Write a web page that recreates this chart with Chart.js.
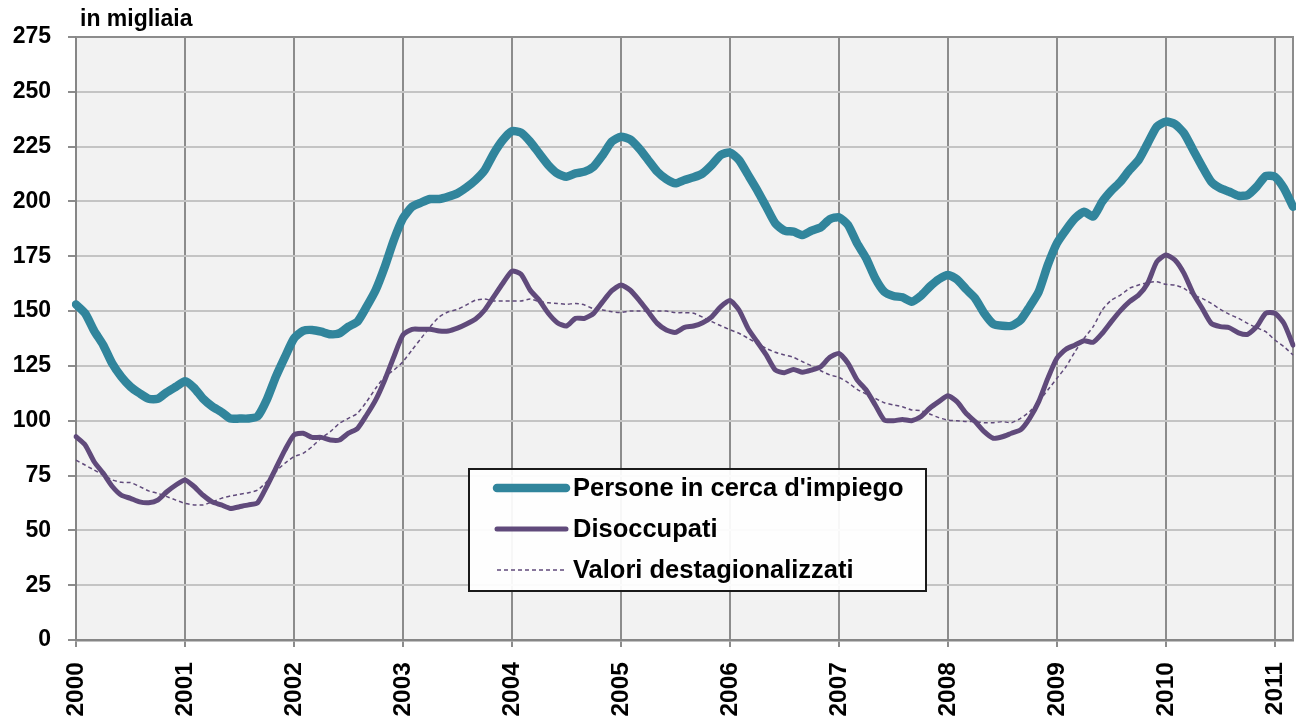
<!DOCTYPE html>
<html>
<head>
<meta charset="utf-8"/>
<title>Persone in cerca d'impiego e disoccupati</title>
<script src="https://cdn.jsdelivr.net/npm/chart.js"></script>
<style>
html, body { margin: 0; padding: 0; background: #fff; }
#wrap { width: 1296px; height: 722px; }
</style>
</head>
<body>
<div id="wrap"><canvas id="myChart"></canvas></div>
<script>
// monthly data, Jan 2000 .. Mar 2011 (thousands)
const years = [2000, 2001, 2002, 2003, 2004, 2005, 2006, 2007, 2008, 2009, 2010, 2011];

const cercaImpiego = [
  153, 149, 141, 134.5, 126, 120, 115.5, 112.5, 110, 110, 113, 115.5,
  118, 115, 110, 106.5, 104, 101, 101, 101, 102, 109.5, 120, 129,
  137.5, 141, 141.4, 140.6, 139.4, 139.9, 142.9, 145.2, 152, 159.6, 170.2, 182.4,
  192.3, 197.6, 199.5, 201.1, 201.1, 202.2, 203.7, 206.4, 209.8, 214.3, 221.9, 228,
  232, 231.4, 227.3, 221.9, 216.6, 212.8, 211.3, 212.8, 213.6, 215.9, 221.2, 227.3,
  229.5, 228.3, 224.2, 218.9, 213.6, 210.2, 208.3, 209.8, 211, 212.8, 216.6, 221.2,
  222.3, 218.9, 212.1, 205.2, 197.6, 190, 186.7, 186.2, 184.7, 186.7, 188.2, 191.9,
  192.8, 189.3, 180.9, 174.1, 165, 158.8, 156.9, 156.3, 154.3, 156.9, 161.1, 164.5,
  166.5, 164.5, 160, 155.8, 149, 144.1, 143.3, 143.3, 145.9, 152, 158.8, 171,
  180.9, 187, 192.3, 195.3, 193.1, 199.9, 204.9, 209, 214.3, 218.9, 226.5, 234.1,
  236.4, 235.3, 231.1, 223.5, 215.9, 209, 206, 204.4, 202.6, 202.9, 206.7, 211.6,
  211.3, 206, 197.6
];

const disoccupati = [
  92.7, 89, 81.3, 76, 70, 66, 64.6, 63, 62.6, 63.8, 67.6, 70.7,
  73, 70, 66, 63, 61.6, 60, 60.8, 61.6, 62.6, 70, 78.3, 86.6,
  93.5, 94.3, 92.4, 92.4, 91.2, 91.2, 94.3, 96.5, 102.6, 109.5, 118.6, 129.2,
  139.1, 141.7, 141.7, 141.7, 140.9, 140.9, 142.2, 144.1, 146.4, 150.5, 156.6, 162.7,
  168.2, 166.8, 159.6, 155, 149, 144.7, 143.2, 146.7, 146.7, 149, 154.3, 159.3,
  161.9, 159.6, 155, 149.7, 144.4, 141.4, 140.3, 142.6, 143.2, 144.7, 147.4, 152,
  154.8, 150.5, 142, 136, 130, 123.1, 121.9, 123.4, 122.1, 123.1, 124.6, 128.9,
  130.7, 126.2, 118.6, 114, 107.2, 100.3, 100, 100.6, 100, 101.8, 105.7, 108.7,
  111.4, 108.7, 103.4, 99.6, 95, 92, 92.7, 94.3, 95.8, 101.1, 108.7, 119.3,
  128.5, 132.6, 134.5, 136.5, 135.8, 139.9, 145.2, 150.2, 154.3, 157.3, 162.7, 172.5,
  175.6, 173.3, 167.2, 158.1, 151.3, 144.4, 142.9, 142.4, 140.1, 139.4, 142.9, 149,
  149, 144.4, 134.5
];

const destagionalizzati = [
  82, 79.8, 77.5, 75.2, 73, 71.9, 71.8, 70, 68, 66.9, 65.4, 63.8,
  62.3, 61.6, 61.6, 63, 64.6, 65.7, 66.4, 67.2, 68.4, 72.2, 76.8, 80.6,
  83.6, 85.1, 88.2, 92, 95, 98.8, 101.1, 103.4, 108.7, 114.8, 120.1, 123.1,
  126.9, 132.3, 137.6, 142.9, 147.4, 149.7, 150.8, 152.8, 155, 155.5, 154.6, 154.6,
  154.6, 154.6, 155.5, 154.3, 153.8, 153.5, 153.1, 153.5, 152.8, 151, 150.5, 149.7,
  149.4, 150, 150, 150, 150, 150, 149.3, 149.3, 149, 147.2, 145.2, 143.3,
  141.5, 139.9, 137.6, 135.3, 133, 131.2, 130, 128.9, 126.9, 125, 122.8, 120.9,
  119.8, 117.4, 114.3, 112.2, 110.2, 108.2, 107.2, 106.4, 104.9, 104.6, 103.1, 101.4,
  100.3, 100, 99.6, 99.6, 99.1, 99.1, 99.6, 99.1, 101.1, 104.1, 108.7, 114,
  119.3, 124.6, 131.5, 137.6, 142.9, 150.5, 155, 157.3, 160.4, 161.9, 163, 163.4,
  162.2, 161.9, 160.4, 157.3, 155.8, 153.5, 150.8, 148.5, 146.7, 144.4, 142.4, 140.6,
  136.8, 133.8, 130
];

const seriesNames = ["Persone in cerca d'impiego", "Disoccupati", "Valori destagionalizzati"];
const yMin = 0, yMax = 275, yStep = 25;

// month labels
const labels = [];
for (let i = 0; i < cercaImpiego.length; i++) {
  labels.push((years[0] + Math.floor(i / 12)) + '-' + String(i % 12 + 1).padStart(2, '0'));
}

const FONT = "'Liberation Sans', Arial, sans-serif";
const TEAL = '#31859C';
const PURPLE = '#604A7B';
const yearColor = (c) => (c.index % 12 === 0 ? '#8c8c8c' : 'rgba(0,0,0,0)');

// plot background + top/right frame
const frame = {
  id: 'frame',
  beforeDraw(chart) {
    const a = chart.chartArea, c = chart.ctx;
    c.save();
    c.fillStyle = '#f2f2f2';
    c.fillRect(a.left, a.top, a.right - a.left, a.bottom - a.top);
    c.restore();
  },
  beforeDatasetsDraw(chart) {
    const a = chart.chartArea, c = chart.ctx;
    c.save();
    c.strokeStyle = '#8c8c8c';
    c.lineWidth = 2;
    c.beginPath();
    c.moveTo(a.left, a.top);
    c.lineTo(a.right, a.top);
    c.lineTo(a.right, a.bottom);
    c.stroke();
    // unit label
    c.fillStyle = '#000';
    c.font = 'bold 23px ' + FONT;
    c.textBaseline = 'alphabetic';
    c.fillText('in migliaia', 80, 26);
    c.restore();
  }
};

// boxed legend inside the plot
const boxLegend = {
  id: 'boxLegend',
  afterDatasetsDraw(chart) {
    const c = chart.ctx;
    const bx = 469, by = 469, bw = 457, bh = 122;
    c.save();
    c.fillStyle = 'rgba(255,255,255,0.93)';
    c.fillRect(bx, by, bw, bh);
    c.strokeStyle = '#1a1a1a';
    c.lineWidth = 2;
    c.strokeRect(bx, by, bw, bh);
    const rows = [488, 529, 570];
    chart.data.datasets.forEach((ds, i) => {
      const y = rows[i];
      c.beginPath();
      c.strokeStyle = ds.borderColor;
      c.lineWidth = ds.borderWidth;
      c.lineCap = ds.borderDash ? 'butt' : 'round';
      c.setLineDash(ds.borderDash || []);
      c.moveTo(497, y);
      c.lineTo(566, y);
      c.stroke();
      c.setLineDash([]);
      c.fillStyle = '#000';
      c.font = 'bold 25.5px ' + FONT;
      c.textBaseline = 'middle';
      c.fillText(ds.label, 573, y + 1);
    });
    c.restore();
  }
};

new Chart(document.getElementById('myChart'), {
  type: 'line',
  data: {
    labels: labels,
    datasets: [
      { label: seriesNames[0], data: cercaImpiego, borderColor: TEAL, borderWidth: 8.5,
        pointRadius: 0, tension: 0.2, borderCapStyle: 'round', borderJoinStyle: 'round' },
      { label: seriesNames[1], data: disoccupati, borderColor: PURPLE, borderWidth: 5,
        pointRadius: 0, tension: 0.2, borderCapStyle: 'round', borderJoinStyle: 'round' },
      { label: seriesNames[2], data: destagionalizzati, borderColor: PURPLE, borderWidth: 1.5,
        borderDash: [4, 3], pointRadius: 0, tension: 0.2 }
    ]
  },
  options: {
    responsive: true,
    maintainAspectRatio: false,
    animation: false,
    layout: { padding: { top: 37, right: 3, left: 0, bottom: 0 } },
    plugins: {
      legend: { display: false },
      tooltip: { enabled: false }
    },
    scales: {
      x: {
        type: 'category',
        offset: false,
        grid: { color: yearColor, tickColor: yearColor, lineWidth: 2, tickLength: 7 },
        border: { color: '#868686', width: 2.5 },
        ticks: {
          autoSkip: false,
          minRotation: 90,
          maxRotation: 90,
          padding: 15,
          color: '#000',
          font: { family: FONT, size: 24.5, weight: 'bold' },
          callback: function (value, index) {
            return index % 12 === 0 ? this.getLabelForValue(value).slice(0, 4) : '';
          }
        },
        afterFit(s) { s.height = 82; s.paddingLeft = 0; s.paddingRight = 0; }
      },
      y: {
        min: yMin,
        max: yMax,
        grid: { color: '#c4c4c4', lineWidth: 2, tickLength: 8, tickColor: '#8c8c8c' },
        border: { color: '#868686', width: 2 },
        ticks: {
          stepSize: yStep,
          padding: 17,
          color: '#000',
          font: { family: FONT, size: 23, weight: 'bold' }
        },
        afterFit(s) { s.width = 76; s.paddingTop = 0; s.paddingBottom = 0; }
      }
    }
  },
  plugins: [frame, boxLegend]
});
</script>
</body>
</html>
